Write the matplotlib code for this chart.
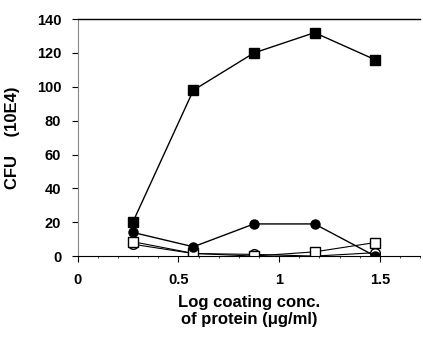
import matplotlib
matplotlib.use('Agg')
import matplotlib.pyplot as plt
from matplotlib.ticker import MultipleLocator

plt.rcParams['font.family'] = ['Liberation Sans', 'DejaVu Sans']
plt.rcParams['font.weight'] = 'bold'

# log coating concentration
x = [0.273, 0.574, 0.875, 1.176, 1.477]

filled_sq = [20, 98, 120, 132, 116]
filled_ci = [14, 5.5, 19, 19, 0]
open_sq = [8.5, 1.6, 0, 2.5, 8]
open_ci = [7, 1.5, 1, 0, 2]

fig = plt.figure(figsize=(4.23, 3.41), dpi=100)
ax = fig.add_axes([0.184, 0.249, 0.809, 0.695])

ax.plot(x, open_ci, '-o', color='black', mfc='white', mec='black', ms=7, lw=0.8)
ax.plot(x, open_sq, '-s', color='black', mfc='white', mec='black', ms=7, lw=0.8)
ax.plot(x, filled_ci, '-o', color='black', ms=6.5, lw=1)
ax.plot(x, filled_sq, '-s', color='black', ms=7, lw=1)

ax.set_xlim(0, 1.7)
ax.set_ylim(0, 140)
ax.set_xticks([0, 0.5, 1, 1.5])
ax.set_xticklabels(['0', '0.5', '1', '1.5'])
ax.xaxis.set_minor_locator(MultipleLocator(0.1))
ax.set_yticks(range(0, 141, 20))

ax.spines['right'].set_visible(False)
ax.spines['left'].set_color('#888888')
ax.spines['top'].set_linewidth(1)
ax.tick_params(axis='both', labelsize=10.5, direction='out', length=4, width=0.8, pad=8)
ax.tick_params(axis='x', which='minor', length=1.5, width=0.5)

ax.set_xlabel('Log coating conc.\nof protein (\u03bcg/ml)', fontsize=12, fontweight='bold',
              labelpad=6, linespacing=1.2)
ax.set_ylabel('CFU    (10E4)', fontsize=12, fontweight='bold', labelpad=12)

fig.savefig('out.png', dpi=100)
